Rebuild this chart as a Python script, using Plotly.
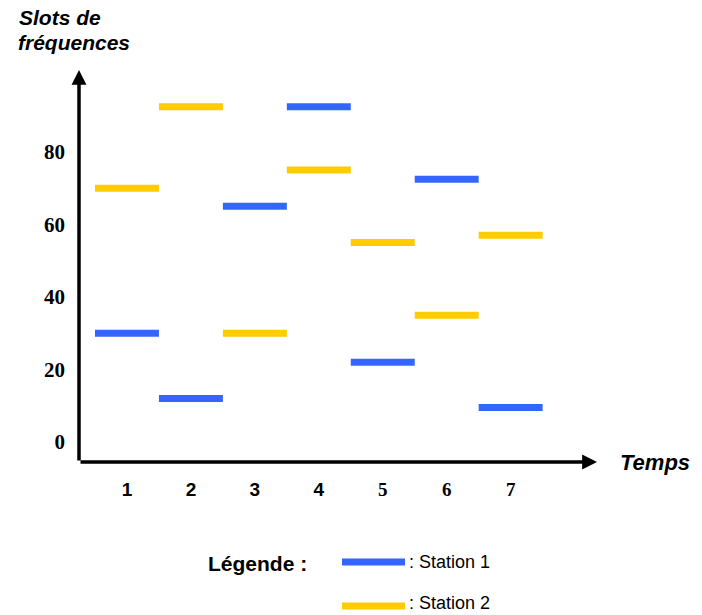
import plotly.graph_objects as go

# ---- data ----
temps = [1, 2, 3, 4, 5, 6, 7]
station1 = [30, 12, 65, 92.5, 22, 72.5, 9.5]
station2 = [70, 92.5, 30, 75, 55, 35, 57]
y_ticks = [0, 20, 40, 60, 80]
x_ticktext = ["1", "2", "3", "4", "5", "6", "7"]

W, H = 702, 615
L, R, T, B = 79, 105, 70, 153
PW, PH = W - L - R, H - T - B
XR = [0.25, 8.35]
YR = [-5.5, 102.6]

def px(xp):
    return (xp - L) / PW

def py(yp):
    return (H - B - yp) / PH

BLUE = "#3366FF"
YELLOW = "#FFCC00"

def seg(vals):
    xs, ys = [], []
    for t, v in zip(temps, vals):
        xs += [t - 0.5, t + 0.5, None]
        ys += [v, v, None]
    return xs, ys

fig = go.Figure()
for name, vals, col in [("Station 1", station1, BLUE), ("Station 2", station2, YELLOW)]:
    xs, ys = seg(vals)
    fig.add_trace(go.Scatter(x=xs, y=ys, mode="lines", name=name,
                             line=dict(color=col, width=7), hoverinfo="skip",
                             showlegend=False))

sans = "Liberation Sans, Arial, sans-serif"
serif = "Liberation Serif, Times New Roman, serif"

ticktext = []
for i, t in enumerate(x_ticktext):
    fam = "Liberation Sans" if i < 4 else "Liberation Serif"
    ticktext.append(f'<span style="font-family:{fam}">{t}</span>')

fig.update_layout(
    width=W, height=H,
    margin=dict(l=L, r=R, t=T, b=B, pad=0),
    paper_bgcolor="white", plot_bgcolor="white",
    xaxis=dict(range=XR, showgrid=False, zeroline=False, showline=False,
               tickvals=temps, ticktext=ticktext, ticks="",
               tickfont=dict(family=serif, size=19, color="black", weight="bold"),
               ticklabelstandoff=14, fixedrange=True),
    yaxis=dict(range=YR, showgrid=False, zeroline=False, showline=False,
               tickvals=y_ticks, ticks="",
               tickfont=dict(family=serif, size=21, color="black", weight="bold"),
               ticklabelstandoff=13, fixedrange=True),
    showlegend=False,
)

# axis arrows
fig.add_annotation(x=XR[1], y=YR[0], ax=XR[0], ay=YR[0], xref="x", yref="y",
                   axref="x", ayref="y", text="", showarrow=True, arrowhead=2,
                   arrowwidth=3.5, arrowsize=0.85, arrowcolor="black",
                   standoff=0, startstandoff=0)
fig.add_annotation(x=XR[0], y=YR[1], ax=XR[0], ay=YR[0], xref="x", yref="y",
                   axref="x", ayref="y", text="", showarrow=True, arrowhead=2,
                   arrowwidth=3.5, arrowsize=0.85, arrowcolor="black",
                   standoff=0, startstandoff=0)

titlefont = dict(family=sans, size=21, color="black", weight="bold", style="italic")
fig.add_annotation(x=px(17), y=py(17), xref="paper", yref="paper", text="Slots de",
                   showarrow=False, xanchor="left", yanchor="middle", font=titlefont)
fig.add_annotation(x=px(16), y=py(43), xref="paper", yref="paper", text="fréquences",
                   showarrow=False, xanchor="left", yanchor="middle", font=titlefont)
fig.add_annotation(x=px(618), y=py(462), xref="paper", yref="paper", text="Temps",
                   showarrow=False, xanchor="left", yanchor="middle",
                   font=dict(family=sans, size=22, color="black", weight="bold", style="italic"))

# legend
fig.add_annotation(x=px(206), y=py(563), xref="paper", yref="paper", text="Légende :",
                   showarrow=False, xanchor="left", yanchor="middle",
                   font=dict(family=sans, size=21, color="black", weight="bold"))
for yy, ty, col, lab in [(562, 562, BLUE, ": Station 1"), (606, 603, YELLOW, ": Station 2")]:
    fig.add_shape(type="line", xref="paper", yref="paper",
                  x0=px(342), x1=px(405), y0=py(yy), y1=py(yy),
                  line=dict(color=col, width=7))
    fig.add_annotation(x=px(407), y=py(ty), xref="paper", yref="paper", text=lab,
                       showarrow=False, xanchor="left", yanchor="middle",
                       font=dict(family=sans, size=18, color="black"))

fig.write_html("out.html", config={"displayModeBar": False},
               post_script="document.body.style.margin='0';document.body.style.overflow='hidden';")
